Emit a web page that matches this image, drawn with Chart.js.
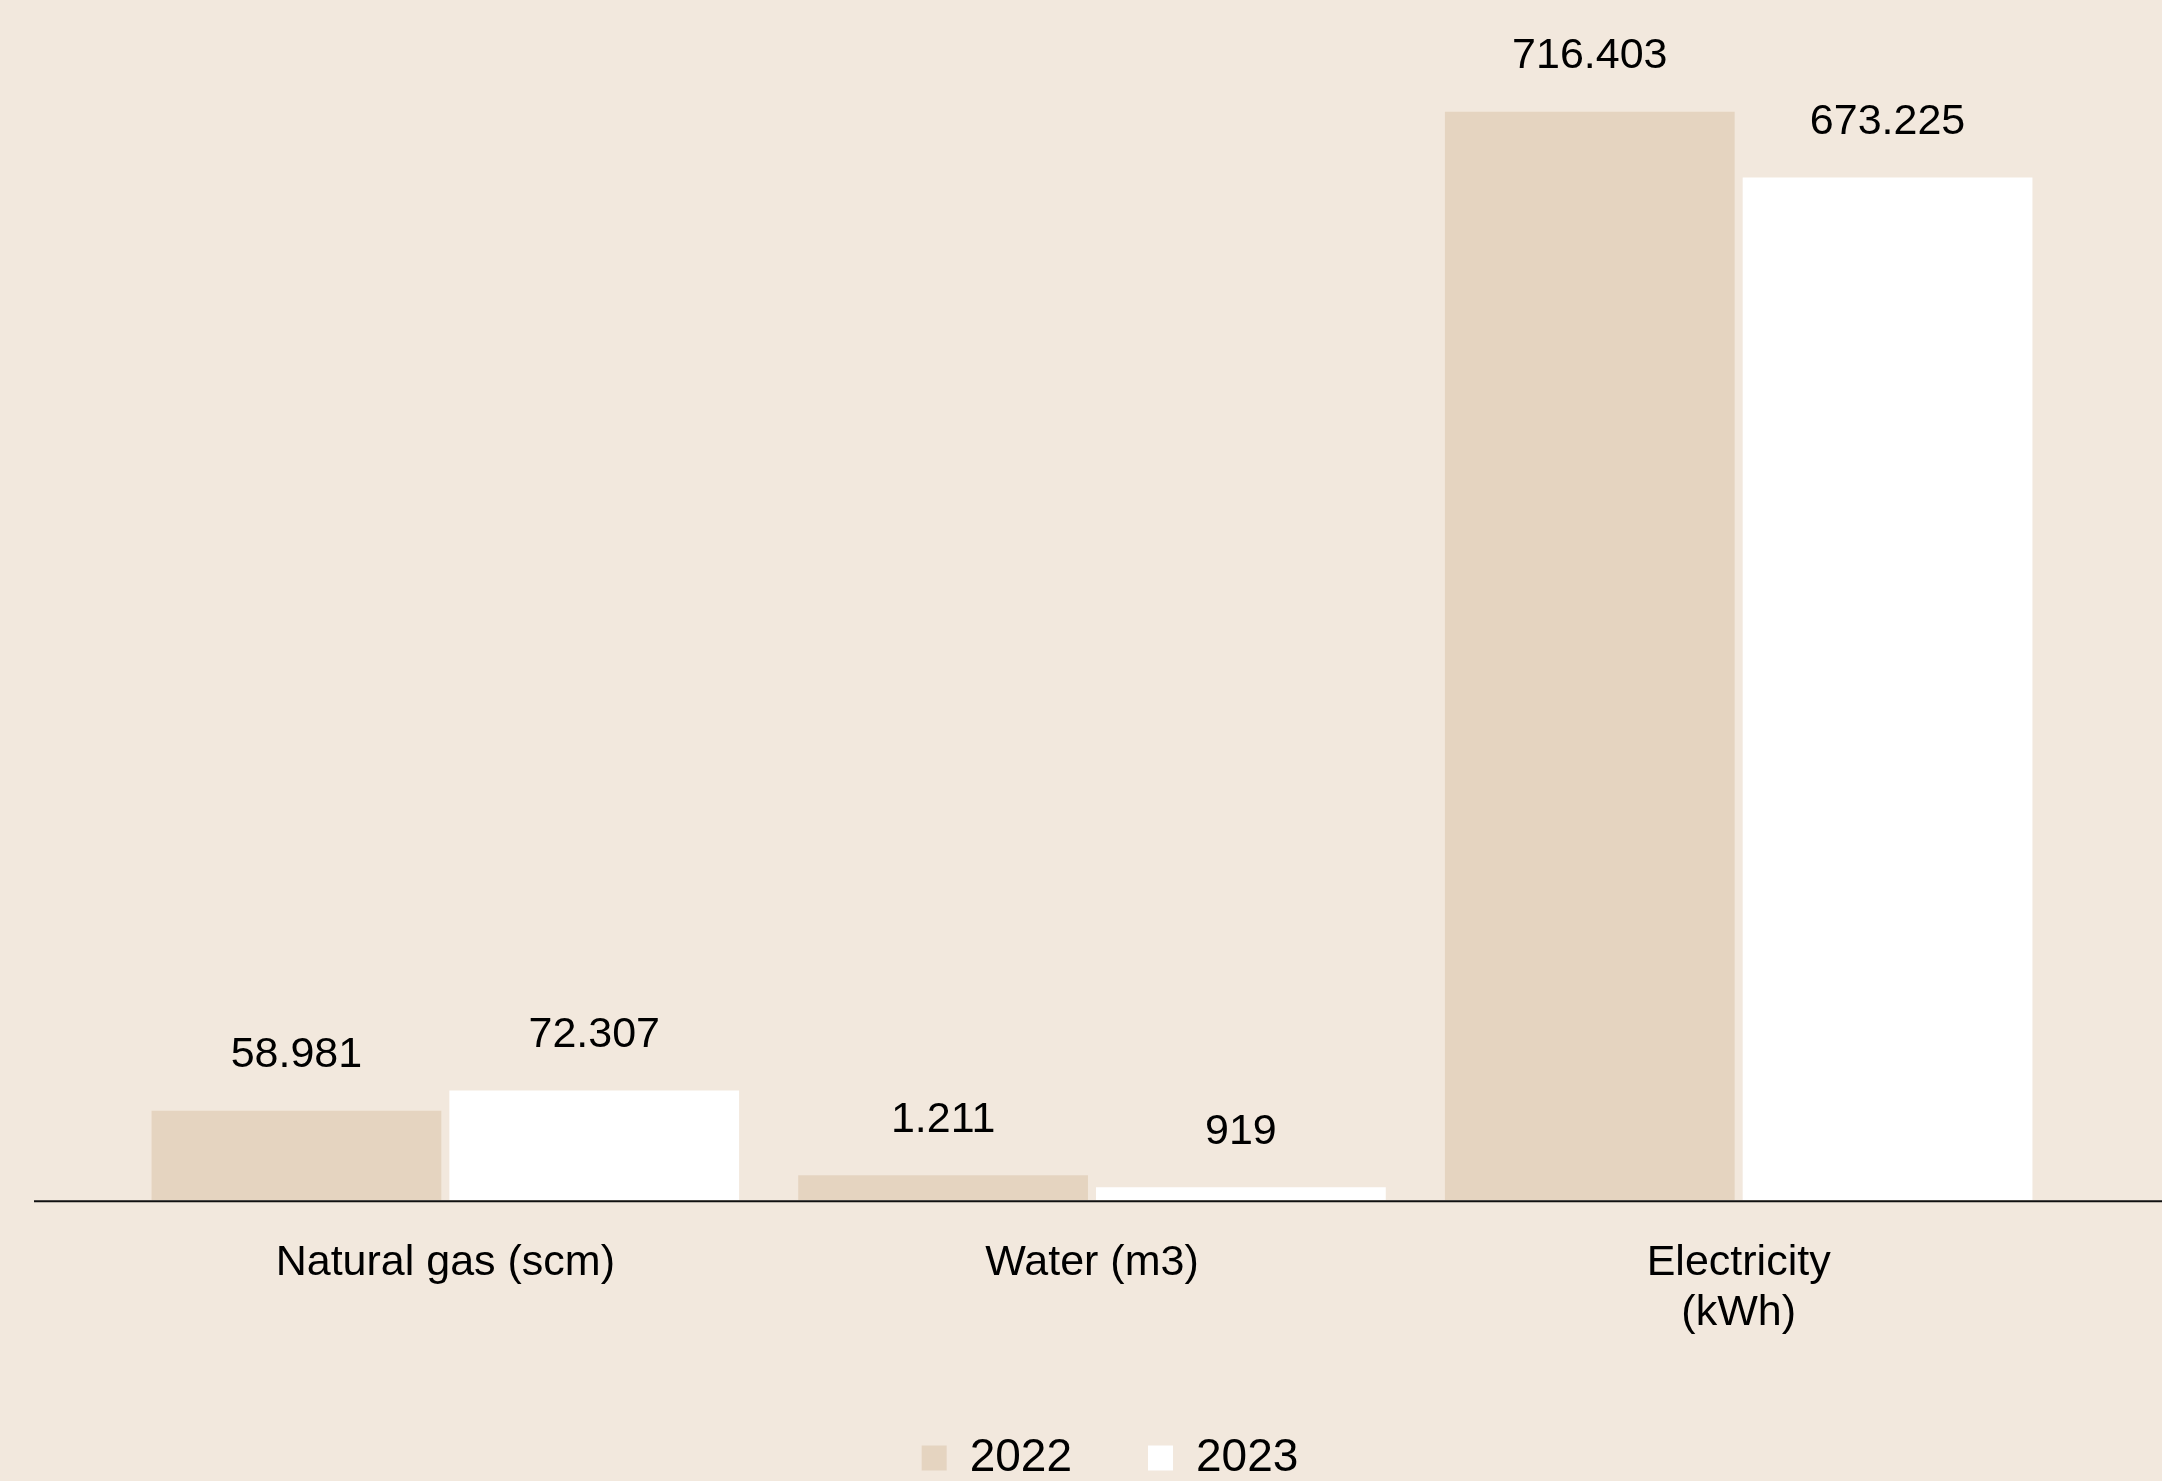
<!DOCTYPE html>
<html lang="en">
<head>
    <meta charset="UTF-8">
    <title>Consumi 2022 - 2023</title>
    <script src="https://cdn.jsdelivr.net/npm/chart.js"></script>
    <style>
        body {
            margin: 0;
            padding: 0;
            background-color: #f2e8dd;
            overflow: hidden;
            font-family: 'Liberation Sans', Arial, sans-serif;
        }

        .wrap {
            position: relative;
            width: 2162px;
            height: 1491px;
        }
    </style>
</head>
<body>
    <div class="wrap">
        <canvas id="consumi"></canvas>
    </div>

    <script>
        // dati
        const categorie = ['Natural gas (scm)', 'Water (m3)', ['Electricity', '(kWh)']];
        const anni = ['2022', '2023'];
        const valori2022 = [58981, 1211, 716403];
        const valori2023 = [72307, 919, 673225];

        const coloreTesto = '#000000';

        // separatore delle migliaia con il punto
        function formatta(v) {
            return String(v).replace(/\B(?=(\d{3})+(?!\d))/g, '.');
        }

        // etichette sopra le barre
        const etichette = {
            id: 'etichette',
            afterDatasetsDraw(chart) {
                const ctx = chart.ctx;
                ctx.save();
                ctx.font = '43px "Liberation Sans", Arial, sans-serif';
                ctx.fillStyle = coloreTesto;
                ctx.textAlign = 'center';
                ctx.textBaseline = 'bottom';
                chart.data.datasets.forEach((ds, i) => {
                    chart.getDatasetMeta(i).data.forEach((bar, j) => {
                        ctx.fillText(formatta(ds.data[j]), bar.x, bar.y - 34);
                    });
                });
                ctx.restore();
            }
        };

        // linea dell'asse x, piu lunga dell'area del grafico
        const lineaAsse = {
            id: 'lineaAsse',
            afterDatasetsDraw(chart) {
                const ctx = chart.ctx;
                const y = chart.scales.y.getPixelForValue(0);
                ctx.save();
                ctx.strokeStyle = '#111111';
                ctx.lineWidth = 2;
                ctx.beginPath();
                ctx.moveTo(chart.chartArea.left - 88, y + 1);
                ctx.lineTo(chart.width, y + 1);
                ctx.stroke();
                ctx.restore();
            }
        };

        // sposta un po' la legenda verso destra
        const spostaLegenda = {
            id: 'spostaLegenda',
            afterLayout(chart) {
                chart.legend.left += 18;
                chart.legend.right += 18;
            }
        };

        const ctx = document.getElementById('consumi').getContext('2d');
        new Chart(ctx, {
            type: 'bar',
            data: {
                labels: categorie,
                datasets: [{
                    label: anni[0],
                    data: valori2022,
                    backgroundColor: '#e5d4c0',
                    minBarLength: 25,
                    categoryPercentage: 0.921,
                    barPercentage: 0.973
                }, {
                    label: anni[1],
                    data: valori2023,
                    backgroundColor: '#ffffff',
                    minBarLength: 13,
                    categoryPercentage: 0.921,
                    barPercentage: 0.973
                }]
            },
            options: {
                responsive: true,
                maintainAspectRatio: false,
                animation: false,
                layout: {
                    padding: { left: 122, right: 100, top: 0, bottom: 0 }
                },
                plugins: {
                    tooltip: { enabled: false },
                    legend: {
                        position: 'bottom',
                        labels: {
                            color: coloreTesto,
                            font: { family: '"Liberation Sans", Arial, sans-serif', size: 46 },
                            boxWidth: 25,
                            boxHeight: 25,
                            padding: 76
                        }
                    }
                },
                scales: {
                    x: {
                        grid: { display: false, drawTicks: false },
                        border: { display: false },
                        ticks: {
                            color: coloreTesto,
                            padding: 38,
                            maxRotation: 0,
                            autoSkip: false,
                            font: { family: '"Liberation Sans", Arial, sans-serif', size: 43, lineHeight: 1.16 }
                        },
                        afterFit(scale) {
                            scale.height -= 17;
                        }
                    },
                    y: {
                        display: false,
                        min: 0,
                        max: 790000
                    }
                }
            },
            plugins: [etichette, lineaAsse, spostaLegenda]
        });
    </script>
</body>
</html>
